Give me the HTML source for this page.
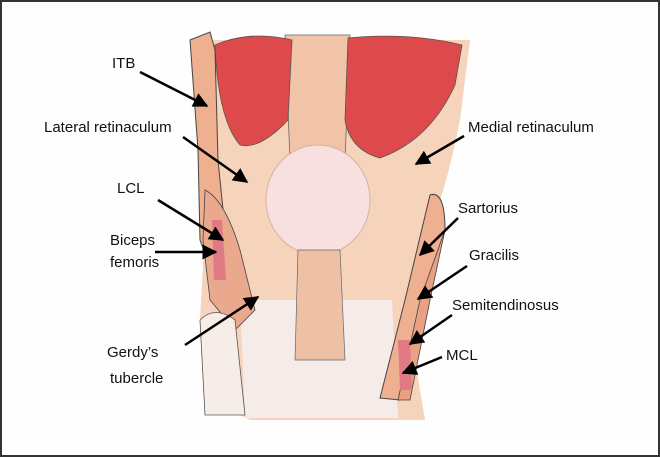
<!DOCTYPE html>
<html><head><style>
body{margin:0;background:#fff}
svg{display:block}
text{font-family:"Liberation Sans",sans-serif;font-size:15px;fill:#111}
</style></head><body>
<svg width="660" height="457" viewBox="0 0 660 457" xmlns="http://www.w3.org/2000/svg">
<defs><marker id="a" viewBox="0 0 10 10" refX="9" refY="5" markerWidth="6" markerHeight="6" orient="auto"><path d="M0,0L10,5L0,10z" fill="#000"/></marker></defs>
<rect x="1" y="1" width="658" height="455" fill="#fefefe" stroke="#333" stroke-width="2"/>
<path d="M200,40 L470,40 L460,120 Q450,170 440,200 L420,260 L410,330 L425,420 L250,420 L210,400 L200,320 L205,230 L215,140 Z" fill="#f6d3bb"/>
<path d="M240,300 L392,300 L398,418 L245,418 Z" fill="#f5ebe8"/>
<path d="M285,35 L350,35 L345,160 L290,160 Z" fill="#f1c4a8" stroke="#666" stroke-width="0.8"/>
<path d="M215,45 Q250,30 292,40 L288,120 Q260,150 240,145 Q218,120 215,45Z" fill="#de4a4c" stroke="#555" stroke-width="0.8"/>
<path d="M348,38 Q410,32 462,45 L455,85 Q430,140 380,158 Q350,150 345,120Z" fill="#de4a4c" stroke="#555" stroke-width="0.8"/>
<path d="M190,40 L210,32 L215,50 L218,160 L228,260 L215,280 L200,240 L198,150 Z" fill="#eeb08f" stroke="#444" stroke-width="1"/>
<path d="M205,190 Q225,200 240,250 L255,310 L235,330 L210,300 L203,240Z" fill="#eaa98c" stroke="#444" stroke-width="0.8"/>
<path d="M212,220 L222,220 L226,280 L214,280Z" fill="#e27a85"/>
<ellipse cx="318" cy="200" rx="52" ry="55" fill="#f7e0df" stroke="#d9b0a5" stroke-width="1"/>
<path d="M298,250 L340,250 L345,360 L295,360 Z" fill="#eec1a6" stroke="#666" stroke-width="0.7"/>
<path d="M200,320 Q215,305 235,320 L245,415 L205,415 Z" fill="#f6ece8" stroke="#555" stroke-width="0.8"/>
<path d="M430,195 Q445,190 445,230 L425,310 L400,400 L380,398 L405,300 Z" fill="#eeb090" stroke="#444" stroke-width="1"/>
<path d="M445,230 L430,300 L410,400 L398,400 L420,300Z" fill="#e9a083" stroke="#444" stroke-width="0.8"/>
<path d="M398,340 L410,340 L412,390 L400,390Z" fill="#e27a85"/>
<text x="112" y="68">ITB</text>
<text x="44" y="132">Lateral retinaculum</text>
<text x="117" y="193">LCL</text>
<text x="110" y="245">Biceps</text>
<text x="110" y="267">femoris</text>
<text x="107" y="357">Gerdy’s</text>
<text x="110" y="383">tubercle</text>
<text x="468" y="132">Medial retinaculum</text>
<text x="458" y="213">Sartorius</text>
<text x="469" y="260">Gracilis</text>
<text x="452" y="310">Semitendinosus</text>
<text x="446" y="360">MCL</text>
<g stroke="#000" stroke-width="2.5" marker-end="url(#a)">
<line x1="140" y1="72" x2="207" y2="106"/>
<line x1="183" y1="137" x2="247" y2="182"/>
<line x1="158" y1="200" x2="223" y2="240"/>
<line x1="155" y1="252" x2="216" y2="252"/>
<line x1="185" y1="345" x2="258" y2="297"/>
<line x1="464" y1="136" x2="416" y2="164"/>
<line x1="458" y1="218" x2="420" y2="255"/>
<line x1="467" y1="266" x2="418" y2="299"/>
<line x1="452" y1="315" x2="410" y2="344"/>
<line x1="442" y1="357" x2="403" y2="373"/>
</g>
</svg>
</body></html>
